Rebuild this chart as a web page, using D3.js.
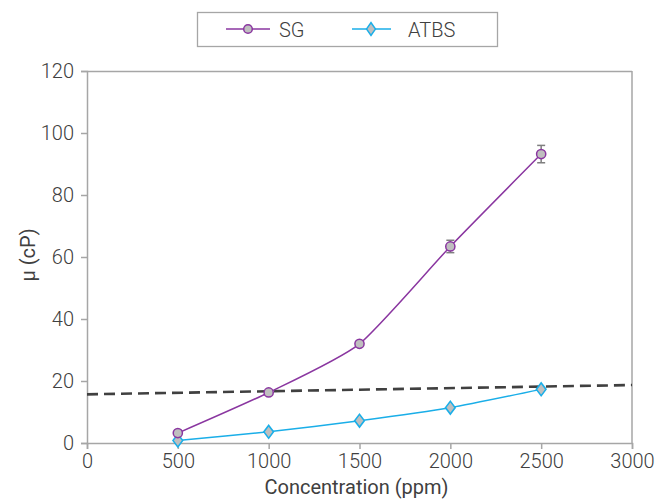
<!DOCTYPE html>
<html><head><meta charset="utf-8">
<script src="https://cdn.jsdelivr.net/npm/d3@7"></script>
<style>body{margin:0;background:#fff}svg{display:block}text{font-family:Roboto,"Noto Sans",sans-serif;fill:#404040}</style>
</head><body><svg id="c" width="655" height="499"></svg>
<script>
const concentrations = [500, 1000, 1500, 2000, 2500];
const sgValues = [3.2, 16.3, 32.0, 63.4, 93.2];
const sgErrors = [0, 0, 0, 2.0, 2.8];
const atbsValues = [0.8, 3.6, 7.2, 11.4, 17.3];
const dashX = [0, 3000];
const dashY = [15.7, 18.7];
const xTicks = [0, 500, 1000, 1500, 2000, 2500, 3000];
const yTicks = [0, 20, 40, 60, 80, 100, 120];
const seriesNames = ["SG", "ATBS"];

const svg = d3.select("#c");
const L = 87, R = 632, T = 71, B = 443;
const x = d3.scaleLinear().domain([0, 3000]).range([L, R]);
const y = d3.scaleLinear().domain([0, 120]).range([B, T]);
const axisCol = "#a6a6a6";
const fs = 20;

svg.append("line").attr("x1", L).attr("x2", R).attr("y1", T + 0.5).attr("y2", T + 0.5).attr("stroke", axisCol).attr("stroke-width", 1.5);
svg.append("line").attr("x1", R).attr("x2", R).attr("y1", T).attr("y2", B).attr("stroke", axisCol).attr("stroke-width", 1.5);

const xa = svg.append("g").attr("transform", `translate(0,${B})`)
  .call(d3.axisBottom(x).tickValues(xTicks).tickSize(6).tickPadding(5).tickFormat(d3.format("d")));
const ya = svg.append("g").attr("transform", `translate(${L},0)`)
  .call(d3.axisLeft(y).tickValues(yTicks).tickSize(6).tickPadding(7));
[xa, ya].forEach(g => {
  g.select(".domain").attr("stroke", axisCol).attr("stroke-width", 1.5);
  g.selectAll(".tick line").attr("stroke", axisCol).attr("stroke-width", 1.5);
  g.selectAll(".tick text").attr("font-size", fs).attr("font-family", "Roboto").attr("fill", "#404040").style("font-weight", 300);
});

svg.append("text").attr("x", (L + R) / 2 - 3).attr("y", 494).attr("text-anchor", "middle")
  .attr("font-size", fs).style("font-weight", 400).text("Concentration (ppm)");
svg.append("text").attr("transform", `translate(35,${(T + B) / 2 - 2}) rotate(-90)`).attr("text-anchor", "middle")
  .attr("font-size", fs).text("μ (cP)");

svg.append("line").attr("x1", x(dashX[0])).attr("x2", x(dashX[1])).attr("y1", y(dashY[0])).attr("y2", y(dashY[1]))
  .attr("stroke", "#404040").attr("stroke-width", 2.6).attr("stroke-dasharray", "11,6");

const sgCol = "#8a36a0", atCol = "#1aaee8", mFill = "#bfbfbf";
const curve = d3.curveCardinal.tension(0.4);
const sgData = concentrations.map((c, i) => ({c, v: sgValues[i], e: sgErrors[i]}));
const atData = concentrations.map((c, i) => ({c, v: atbsValues[i]}));
const line = d3.line().x(d => x(d.c)).y(d => y(d.v)).curve(curve);

svg.append("path").attr("d", line(atData)).attr("fill", "none").attr("stroke", atCol).attr("stroke-width", 1.5);
svg.append("path").attr("d", line(sgData)).attr("fill", "none").attr("stroke", sgCol).attr("stroke-width", 1.5);

sgData.filter(d => d.e > 0).forEach(d => {
  const g = svg.append("g").attr("stroke", "#7f7f7f").attr("stroke-width", 1.5);
  g.append("line").attr("x1", x(d.c)).attr("x2", x(d.c)).attr("y1", y(d.v + d.e)).attr("y2", y(d.v - d.e));
  g.append("line").attr("x1", x(d.c) - 4).attr("x2", x(d.c) + 4).attr("y1", y(d.v + d.e)).attr("y2", y(d.v + d.e));
  g.append("line").attr("x1", x(d.c) - 4).attr("x2", x(d.c) + 4).attr("y1", y(d.v - d.e)).attr("y2", y(d.v - d.e));
});

const diamond = d3.symbol().type(d3.symbolDiamond).size(48);
svg.selectAll(".at").data(atData).enter().append("path")
  .attr("transform", d => `translate(${x(d.c)},${y(d.v)}) scale(1.3,1)`)
  .attr("d", diamond).attr("fill", mFill).attr("stroke", atCol).attr("stroke-width", 1.3);
svg.selectAll(".sg").data(sgData).enter().append("circle")
  .attr("cx", d => x(d.c)).attr("cy", d => y(d.v)).attr("r", 4.6)
  .attr("fill", mFill).attr("stroke", sgCol).attr("stroke-width", 1.5);

const lg = svg.append("g");
lg.append("rect").attr("x", 197.5).attr("y", 12.5).attr("width", 300).attr("height", 34)
  .attr("fill", "#fff").attr("stroke", axisCol).attr("stroke-width", 1.3);
lg.append("line").attr("x1", 226).attr("x2", 270).attr("y1", 29).attr("y2", 29).attr("stroke", sgCol).attr("stroke-width", 1.5);
lg.append("circle").attr("cx", 248).attr("cy", 29).attr("r", 4.3).attr("fill", mFill).attr("stroke", sgCol).attr("stroke-width", 1.5);
lg.append("text").attr("x", 279).attr("y", 36.5).attr("font-size", fs).style("font-weight", 300).text(seriesNames[0]);
lg.append("line").attr("x1", 352).attr("x2", 391).attr("y1", 29).attr("y2", 29).attr("stroke", atCol).attr("stroke-width", 1.5);
lg.append("path").attr("transform", "translate(371,29) scale(1.2,1)").attr("d", diamond).attr("fill", mFill).attr("stroke", atCol).attr("stroke-width", 1.3);
lg.append("text").attr("x", 408).attr("y", 36.5).attr("font-size", fs).style("font-weight", 300).text(seriesNames[1]);
</script></body></html>
